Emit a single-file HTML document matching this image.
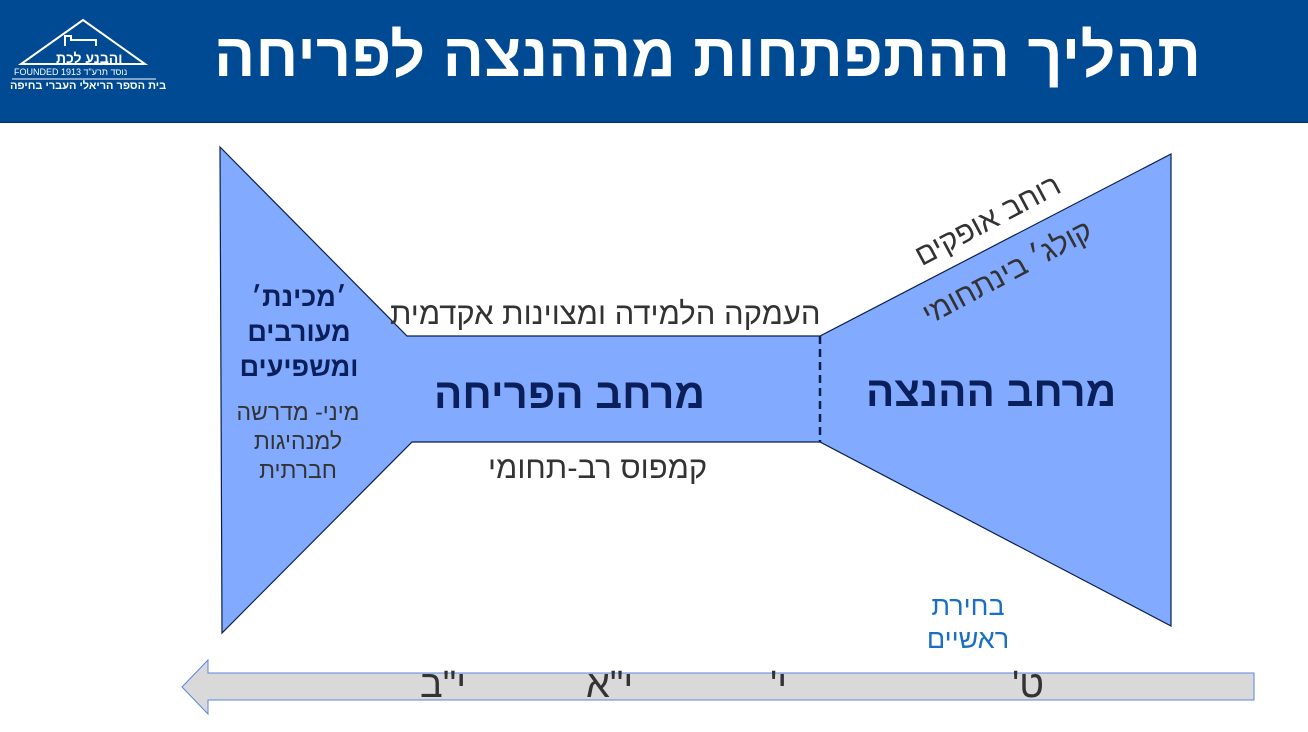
<!DOCTYPE html>
<html><head><meta charset="utf-8"><style>
body{margin:0;width:1308px;height:732px;overflow:hidden;background:#fff;font-family:"Liberation Sans","Noto Sans CJK SC",sans-serif}
.hdr{position:absolute;left:0;top:0;width:1308px;height:122px;background:#004a93;border-bottom:1px solid #0b2c5a}
.t{position:absolute;white-space:nowrap;direction:rtl}
</style></head><body>
<div class="hdr"></div>
<svg width="1308" height="732" style="position:absolute;left:0;top:0">
<polygon points="83,20 145,64 21,64" fill="none" stroke="#fff" stroke-width="2"/>
<path d="M65,46 v-10 h6 v4 h25 v6" fill="none" stroke="#fff" stroke-width="2"/>
<line x1="12" y1="79" x2="156" y2="79" stroke="#fff" stroke-width="1"/>
<polygon points="220,147 407,336 820,336 1171,154 1171,626 820,442 412,442 222,633" fill="#82aaff" stroke="#0b1f4a" stroke-width="1.2"/>
<line x1="820" y1="336" x2="820" y2="442" stroke="#0b1f4a" stroke-width="2.5" stroke-dasharray="8,5"/>
<polygon points="182,687 208,660 208,673 1254,673 1254,700 208,700 208,714" fill="#d9d9d9" stroke="#5b86e0" stroke-width="1"/>
</svg>
<div class="t" style="left:56px;top:50px;color:#fff;font-size:14px;font-weight:bold">והבנע לכת</div>
<div class="t" style="left:14px;top:67px;color:#fff;font-size:9px">נוסד תרע"ד FOUNDED 1913</div>
<div class="t" style="left:10px;top:80px;color:#fff;font-size:11px;font-weight:bold">בית הספר הריאלי העברי בחיפה</div>
<div class="t" style="left:214px;top:20px;color:#fff;font-size:61px;font-weight:bold;letter-spacing:0.3px">תהליך ההתפתחות מההנצה לפריחה</div>
<div class="t" style="left:390px;top:296px;color:#333;font-size:31px">העמקה הלמידה ומצוינות אקדמית</div>
<div class="t" style="left:434px;top:370px;color:#0b1f5a;font-size:42px;font-weight:bold">מרחב הפריחה</div>
<div class="t" style="left:866px;top:368px;color:#0b1f5a;font-size:42px;font-weight:bold">מרחב ההנצה</div>
<div class="t" style="left:488px;top:450px;color:#333;font-size:31px">קמפוס רב-תחומי</div>
<div style="position:absolute;left:224px;top:280px;width:150px;text-align:center;direction:rtl;color:#0b1f5a;font-size:27px;font-weight:bold;line-height:35px">׳מכינת׳<br>מעורבים<br>ומשפיעים</div>
<div style="position:absolute;left:218px;top:398px;width:160px;text-align:center;direction:rtl;color:#333;font-size:23px;line-height:29px">מיני- מדרשה<br>למנהיגות<br>חברתית</div>
<div class="t" style="left:908px;top:204px;color:#333;font-size:30px;transform:rotate(-28deg);transform-origin:center">רוחב אופקים</div>
<div class="t" style="left:914px;top:256px;color:#333;font-size:30px;transform:rotate(-28deg);transform-origin:center">קולג׳ בינתחומי</div>
<div style="position:absolute;left:900px;top:590px;width:136px;text-align:center;direction:rtl;color:#1a6fc4;font-size:27px;line-height:33px">בחירת<br>ראשיים</div>
<div class="t" style="left:420px;top:664px;color:#333;font-size:38px">י"ב</div>
<div class="t" style="left:586px;top:664px;color:#333;font-size:38px">י"א</div>
<div class="t" style="left:770px;top:664px;color:#333;font-size:38px">י'</div>
<div class="t" style="left:1012px;top:664px;color:#333;font-size:38px">ט'</div>
</body></html>
